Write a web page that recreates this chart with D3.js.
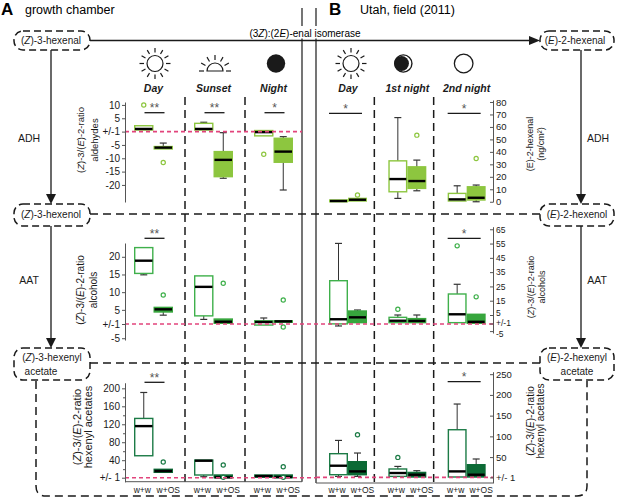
<!DOCTYPE html>
<html>
<head>
<meta charset="utf-8">
<script src="https://cdn.jsdelivr.net/npm/d3@7"></script>
<style>
body{margin:0;background:#fff;}
svg{font-family:"Liberation Sans",Arial,Helvetica,sans-serif;}
</style>
</head>
<body>
<svg id="fig" width="617" height="499"></svg>
<script>
// ---------- data ----------
var timesA = ['Day', 'Sunset', 'Night'];
var timesB = ['Day', '1st night', '2nd night'];
var treatments = ['w+w', 'w+OS'];

// box stats per time x treatment : [whisker low, q1, median, q3, whisker high]
var aldA = [[0.6,0.6,1.0,2.2,2.2], [-6.5,-6.5,-6.0,-5.6,-4.3],
            [0.6,0.6,1.0,3.1,3.5], [-17.5,-16.9,-10.6,-7.5,-0.4],
            [-1.6,-1.6,-0.2,0.4,0.4], [-21.9,-11.5,-7.5,-2.5,-1.9]];
var aldAOut = [[10], [-11.6], [], [], [-8.5], []];
var hexB = [[0,0,0.6,1.4,1.4], [0.6,0.6,1.6,2.7,2.7],
            [2.7,8,18.2,32.8,67.5], [8.8,10.7,16.6,28,33.4],
            [0.6,0.6,1.9,6.7,12.8], [0,1.4,3.2,12,13.4]];
var hexBOut = [[], [5.4], [], [53.4], [], [34.7]];

var alcA = [[14.9,15.3,18.9,22.6,22.6], [3.5,4.4,5.15,5.7,5.7],
            [2.3,3.3,11.5,14.6,14.6], [1.2,1.2,1.65,2.4,2.4],
            [-1.3,-1.3,1.56,1.9,2.7], [1.5,1.5,1.75,1.9,1.9]];
var alcAOut = [[], [9.2], [], [12.5], [], [7.8, -1.85]];
var alcB = [[-2.3,-1.2,3,29,55.1], [1.4,1.4,3.9,7.8,8.5],
            [1.4,1.4,2.3,3.9,5], [1.4,1.4,2.2,3.3,5],
            [1.4,1.4,5.5,19.7,26.5], [1.1,1.1,1.8,5.5,5.5]];
var alcBOut = [[], [], [9], [], [53.4], [17.7]];

var aceA = [[49.9,49.9,115.9,133,190.8], [13,13,15.9,19.7,19.7],
            [3.2,7,38.8,40.3,40.3], [1,1,1.9,7,7],
            [1.9,1.9,4.8,7,7], [1,1,2.5,7,7]];
var aceAOut = [[], [35.9], [], [29.2, 2], [], [25.4, 2]];
var aceB = [[3.4,7.5,29.2,58.2,90.2], [3.4,7.5,15.5,38.9,59.8],
            [3.4,3.4,11.6,21.3,27.5], [2,2,7.5,13,17.2],
            [2,2,15.5,116,178], [2,2,7.5,31.6,45.4]];
var aceBOut = [[], [104], [49.2], [], [], []];

// significance marks per time
var sigAldA = ['**', '**', '*'];
var sigHexB = ['*', '', '*'];
var sigAlcA = ['**', '', ''];
var sigAlcB = ['', '', '*'];
var sigAceA = ['**', '', ''];
var sigAceB = ['', '', '*'];

// axis ticks
var aldTicksA = [10, 5, 0, -5, -10, -15, -20];
var aldLabelsA = ['10', '5', '+/-1', '-5', '-10', '-15', '-20'];
var hexTicksB = [80, 70, 60, 50, 40, 30, 20, 10, 0];
var alcTicksA = [20, 15, 10, 5, 1, -5];
var alcLabelsA = ['20', '15', '10', '5', '+/-1', '-5'];
var alcTicksB = [65, 55, 45, 35, 25, 15, 5, 1, -5];
var alcLabelsB = ['65', '55', '45', '35', '25', '15', '5', '+/-1', '-5'];
var aceTicksA = [200, 160, 120, 80, 40, 1];
var aceLabelsA = ['200', '160', '120', '80', '40', '+/- 1'];
var aceMinorA = [180, 140, 100, 60, 20];
var aceTicksB = [250, 200, 150, 100, 50, 1];
var aceLabelsB = ['250', '200', '150', '100', '50', '+/- 1'];

// ---------- layout ----------
var svg = d3.select('#fig');
var lime = '#8dc63f', green = '#3fb04b', greenFill = '#37a63d', dark = '#1c7b46', darkFill = '#0c6a35';
var pink = '#e2447c', ink = '#1a1a1a';

var xA = d3.scaleBand().domain(timesA).range([125, 305]);
var xB = d3.scaleBand().domain(timesB).range([315, 493]);
var subA = d3.scaleBand().domain(treatments).range([9, 48]);
var subB = d3.scaleBand().domain(treatments).range([14, 52]);

var yAldA = d3.scaleLinear().domain([-26.4, 11.1]).range([202, 102]);
var yHexB = d3.scaleLinear().domain([-0.2, 81.6]).range([202, 100]);
var yAlcA = d3.scaleLinear().domain([-5.5, -1, 1, 23.9]).range([340, 324, 324, 243]);
var yAlcB = d3.scaleLinear().domain([-6, -1, 1, 5, 66.8]).range([333, 323.5, 323.5, 315, 226.7]);
var yAceA = d3.scaleLinear().domain([-7.9, 211.9]).range([481.7, 383]);
var yAceB = d3.scaleLinear().domain([-12.5, 256]).range([483, 371.7]);

function pairCenter(x, sub, t) {
  return x(t) + (sub.range()[0] + sub.range()[1]) / 2;
}

function rich(t, parts) {
  parts.forEach(function (p) {
    var s = t.append('tspan').text(p[0]);
    if (p[1]) s.attr('font-style', 'italic');
  });
  return t;
}

// ---------- pathway scaffolding (dashed boxes + arrows) ----------
var path = svg.append('g').attr('fill', 'none').attr('stroke', ink);
var dash = '7,4';

// column separators
[xA('Sunset'), xA('Night'), xB('1st night'), xB('2nd night')].forEach(function (xx) {
  path.append('line').attr('x1', xx).attr('x2', xx).attr('y1', 97).attr('y2', 483)
    .attr('stroke-width', 1.5).attr('stroke-dasharray', '8,5');
});
// horizontal dashed links
[214, 363].forEach(function (yy) {
  path.append('line').attr('x1', 90).attr('x2', 540).attr('y1', yy).attr('y2', yy)
    .attr('stroke-width', 1.5).attr('stroke-dasharray', '8,5');
});
// lower enclosure
path.append('path').attr('d', 'M36,381 V486 Q36,496 46,496 H577 Q587,496 587,486 V381')
  .attr('stroke-width', 1.5).attr('stroke-dasharray', '8,5');

// compound boxes
var boxes = [[14, 31, 76, 19], [14, 204, 76, 22], [14, 348, 76, 32],
             [540, 31, 74, 19], [540, 204, 74, 22], [540, 348, 74, 32]];
boxes.forEach(function (b) {
  path.append('rect').attr('x', b[0]).attr('y', b[1]).attr('width', b[2]).attr('height', b[3])
    .attr('rx', 9).attr('fill', '#fff').attr('stroke-width', 1.5).attr('stroke-dasharray', dash);
});

// panel dividers
path.append('line').attr('x1', 302).attr('x2', 302).attr('y1', 8).attr('y2', 481.7).attr('stroke-width', 1.2);
path.append('line').attr('x1', 316).attr('x2', 316).attr('y1', 8).attr('y2', 483).attr('stroke-width', 1.2);

// isomerase arrow
svg.append('rect').attr('x', 243).attr('y', 26).attr('width', 124).attr('height', 12.5).attr('fill', '#fff');
path.append('line').attr('x1', 90).attr('x2', 532).attr('y1', 40.5).attr('y2', 40.5).attr('stroke-width', 1.3);
svg.append('path').attr('d', 'M529,36 L540,40.5 L529,45 Z').attr('fill', ink);
rich(svg.append('text').attr('x', 305).attr('y', 37).attr('text-anchor', 'middle').attr('font-size', 10),
  [['(3'], ['Z', 1], ['):(2'], ['E', 1], [')-enal isomerase']]);

// vertical enzyme arrows
[[51, 50, 204], [51, 226, 348], [581, 50, 204], [581, 226, 348]].forEach(function (a) {
  path.append('line').attr('x1', a[0]).attr('x2', a[0]).attr('y1', a[1]).attr('y2', a[2] - 8).attr('stroke-width', 1.3);
  svg.append('path').attr('d', 'M' + (a[0] - 5) + ',' + (a[2] - 10) + ' L' + a[0] + ',' + a[2] + ' L' + (a[0] + 5) + ',' + (a[2] - 10) + ' Z').attr('fill', ink);
});

var lab = svg.append('g').attr('font-size', 10).attr('fill', ink).attr('text-anchor', 'middle');
rich(lab.append('text').attr('x', 51).attr('y', 44), [['('], ['Z', 1], [')-3-hexenal']]);
rich(lab.append('text').attr('x', 51).attr('y', 218), [['('], ['Z', 1], [')-3-hexenol']]);
rich(lab.append('text').attr('x', 52).attr('y', 361), [['('], ['Z', 1], [')-3-hexenyl']]);
lab.append('text').attr('x', 41).attr('y', 375).text('acetate');
rich(lab.append('text').attr('x', 575).attr('y', 44), [['('], ['E', 1], [')-2-hexenal']]);
rich(lab.append('text').attr('x', 577).attr('y', 218), [['('], ['E', 1], [')-2-hexenol']]);
rich(lab.append('text').attr('x', 577).attr('y', 361), [['('], ['E', 1], [')-2-hexenyl']]);
lab.append('text').attr('x', 577).attr('y', 375).text('acetate');
lab.append('text').attr('x', 29).attr('y', 142).attr('font-size', 10.5).text('ADH');
lab.append('text').attr('x', 29).attr('y', 284).attr('font-size', 10.5).text('AAT');
lab.append('text').attr('x', 598).attr('y', 142).attr('font-size', 10.5).text('ADH');
lab.append('text').attr('x', 597).attr('y', 284).attr('font-size', 10.5).text('AAT');

// panel titles
svg.append('text').attr('x', 1).attr('y', 15).attr('font-size', 17).attr('font-weight', 'bold').text('A');
svg.append('text').attr('x', 25).attr('y', 14).attr('font-size', 12.5).text('growth chamber');
svg.append('text').attr('x', 329).attr('y', 15).attr('font-size', 17).attr('font-weight', 'bold').text('B');
svg.append('text').attr('x', 360).attr('y', 14).attr('font-size', 12.5).text('Utah, field (2011)');

// ---------- time icons + labels ----------
var iconY = 63.5;
function sun(cx, cy) {
  var g = svg.append('g').attr('stroke', ink).attr('stroke-width', 1.2);
  g.append('circle').attr('cx', cx).attr('cy', cy).attr('r', 8).attr('fill', '#fff');
  d3.range(12).forEach(function (i) {
    var a = i * Math.PI / 6;
    g.append('line').attr('x1', cx + 11 * Math.cos(a)).attr('y1', cy + 11 * Math.sin(a))
      .attr('x2', cx + 15.5 * Math.cos(a)).attr('y2', cy + 15.5 * Math.sin(a));
  });
}
function sunset(cx, cy) {
  var g = svg.append('g').attr('stroke', ink).attr('stroke-width', 1.2).attr('fill', 'none');
  g.append('path').attr('d', 'M' + (cx - 8) + ',' + cy + ' A8,8 0 0,1 ' + (cx + 8) + ',' + cy + ' Z');
  d3.range(7).forEach(function (i) {
    var a = -i * Math.PI / 6;
    g.append('line').attr('x1', cx + 11 * Math.cos(a)).attr('y1', cy + 11 * Math.sin(a))
      .attr('x2', cx + 16 * Math.cos(a)).attr('y2', cy + 16 * Math.sin(a));
  });
}
function moonFull(cx, cy) {
  svg.append('circle').attr('cx', cx).attr('cy', cy).attr('r', 9.2).attr('fill', ink);
}
function moonCrescent(cx, cy) {
  svg.append('circle').attr('cx', cx).attr('cy', cy).attr('r', 9.3).attr('fill', ink);
  svg.append('circle').attr('cx', cx).attr('cy', cy).attr('r', 7.9).attr('fill', '#fff');
  svg.append('circle').attr('cx', cx - 1.8).attr('cy', cy).attr('r', 7.4).attr('fill', ink);
}
function moonOpen(cx, cy) {
  svg.append('circle').attr('cx', cx).attr('cy', cy).attr('r', 9.3).attr('fill', 'none')
    .attr('stroke', ink).attr('stroke-width', 1.3);
}
sun(pairCenter(xA, subA, 'Day') + 1.5, iconY);
sunset(pairCenter(xA, subA, 'Sunset') + 1.5, 71);
moonFull(pairCenter(xA, subA, 'Night') + 2.5, iconY);
sun(pairCenter(xB, subB, 'Day') + 3, iconY);
moonCrescent(pairCenter(xB, subB, '1st night') - 4, iconY);
moonOpen(pairCenter(xB, subB, '2nd night') - 3, iconY);

function timeLabels(x, sub, times) {
  svg.append('g').selectAll('text').data(times).enter().append('text')
    .attr('x', function (d) { return pairCenter(x, sub, d); })
    .attr('y', 92).attr('text-anchor', 'middle').attr('font-size', 10.5)
    .attr('font-weight', 'bold').attr('font-style', 'italic').attr('fill', ink)
    .text(function (d) { return d; });
}
timeLabels(xA, subA, timesA);
timeLabels(xB, subB, timesB);

// ---------- box plots ----------
function drawBoxes(x, sub, times, y, stats, outs, col, fill) {
  var recs = stats.map(function (s, i) {
    var t = times[Math.floor(i / 2)], k = treatments[i % 2];
    return { x0: x(t) + sub(k), w: sub.bandwidth(), s: s, out: outs[i], filled: i % 2 === 1 };
  });
  var g = svg.append('g');
  var b = g.selectAll('g').data(recs).enter().append('g');
  b.append('line').attr('stroke', '#333').attr('stroke-width', 1)
    .attr('x1', function (d) { return d.x0 + d.w / 2; }).attr('x2', function (d) { return d.x0 + d.w / 2; })
    .attr('y1', function (d) { return y(d.s[0]); }).attr('y2', function (d) { return y(d.s[4]); });
  b.filter(function (d) { return d.s[0] < d.s[1]; }).append('line').attr('stroke', '#333').attr('stroke-width', 1.2)
    .attr('x1', function (d) { return d.x0 + d.w / 2 - 3.5; }).attr('x2', function (d) { return d.x0 + d.w / 2 + 3.5; })
    .attr('y1', function (d) { return y(d.s[0]); }).attr('y2', function (d) { return y(d.s[0]); });
  b.filter(function (d) { return d.s[4] > d.s[3]; }).append('line').attr('stroke', '#333').attr('stroke-width', 1.2)
    .attr('x1', function (d) { return d.x0 + d.w / 2 - 3.5; }).attr('x2', function (d) { return d.x0 + d.w / 2 + 3.5; })
    .attr('y1', function (d) { return y(d.s[4]); }).attr('y2', function (d) { return y(d.s[4]); });
  b.append('rect')
    .attr('x', function (d) { return d.x0 + 0.7; }).attr('width', function (d) { return d.w - 1.4; })
    .attr('y', function (d) { return y(d.s[3]); })
    .attr('height', function (d) { return Math.max(1, y(d.s[1]) - y(d.s[3])); })
    .attr('fill', function (d) { return d.filled ? fill : '#fff'; })
    .attr('stroke', function (d) { return d.filled ? fill : col; }).attr('stroke-width', 1.4);
  b.append('line').attr('stroke', '#000').attr('stroke-width', 2.4)
    .attr('x1', function (d) { return d.x0 + 1; }).attr('x2', function (d) { return d.x0 + d.w - 1; })
    .attr('y1', function (d) { return y(d.s[2]); }).attr('y2', function (d) { return y(d.s[2]); });
  b.selectAll('circle').data(function (d) { return d.out.map(function (v) { return { v: v, cx: d.x0 + d.w / 2 }; }); })
    .enter().append('circle').attr('r', 2.1)
    .attr('cx', function (d) { return d.cx; }).attr('cy', function (d) { return y(d.v); })
    .attr('fill', '#fff').attr('stroke', col).attr('stroke-width', 1.2);
}

function drawSig(x, sub, times, sig, lineY, left, right) {
  var g = svg.append('g');
  times.forEach(function (t, i) {
    if (!sig[i]) return;
    var c = pairCenter(x, sub, t);
    g.append('line').attr('x1', c + left).attr('x2', c + right).attr('y1', lineY).attr('y2', lineY)
      .attr('stroke', ink).attr('stroke-width', 1.3);
    g.append('text').attr('x', c + (left + right) / 2).attr('y', lineY - 0.5).attr('text-anchor', 'middle')
      .attr('font-size', 12).attr('fill', '#555').text(sig[i]);
  });
}

function pinkLine(x1, x2, yy) {
  svg.append('line').attr('x1', x1).attr('x2', x2).attr('y1', yy).attr('y2', yy)
    .attr('stroke', pink).attr('stroke-width', 1.6).attr('stroke-dasharray', '4,3');
}

function leftAxis(y, ticks, labels, minor) {
  var g = svg.append('g').attr('transform', 'translate(125,0)')
    .call(d3.axisLeft(y).tickValues(ticks).tickFormat(function (d, i) { return labels[i]; })
      .tickSize(3).tickSizeOuter(0).tickPadding(2));
  g.selectAll('text').attr('font-size', 10).attr('font-family', null).attr('fill', ink);
  g.selectAll('line, path').attr('stroke', '#555');
  if (minor) {
    svg.append('g').attr('transform', 'translate(125,0)')
      .call(d3.axisLeft(y).tickValues(minor).tickFormat('').tickSize(2).tickSizeOuter(0))
      .selectAll('line, path').attr('stroke', '#555');
  }
}
function rightAxis(y, ticks, labels, size) {
  var g = svg.append('g').attr('transform', 'translate(493,0)')
    .call(d3.axisRight(y).tickValues(ticks).tickFormat(function (d, i) { return labels ? labels[i] : d; })
      .tickSizeInner(-3).tickSizeOuter(0).tickPadding(3));
  g.selectAll('text').attr('font-size', size || 9.5).attr('font-family', null).attr('fill', ink);
  g.selectAll('line, path').attr('stroke', '#555');
  return g;
}

function yTitle(cx, cy, l1, l2, size) {
  var g = svg.append('g').attr('font-size', size).attr('fill', ink).attr('text-anchor', 'middle');
  var t1 = g.append('text').attr('transform', 'translate(' + cx[0] + ',' + cy + ') rotate(-90)')
    .attr('dominant-baseline', 'central');
  rich(t1, l1);
  g.append('text').attr('transform', 'translate(' + cx[1] + ',' + cy + ') rotate(-90)')
    .attr('dominant-baseline', 'central').text(l2);
}
var ratioParts = [['('], ['Z', 1], [')-3/('], ['E', 1], [')-2-ratio']];

// row 1 : aldehydes
drawBoxes(xA, subA, timesA, yAldA, aldA, aldAOut, lime, lime);
drawBoxes(xB, subB, timesB, yHexB, hexB, hexBOut, lime, lime);
pinkLine(125, 302, yAldA(0));
leftAxis(yAldA, aldTicksA, aldLabelsA);
rightAxis(yHexB, hexTicksB);
drawSig(xA, subA, timesA, sigAldA, 112.7, -9, 11);
drawSig(xB, subB, timesB, sigHexB, 113.3, -19, 14);
yTitle([80, 94], 140, ratioParts, 'aldehydes', 9.5);
yTitle([530, 541], 144, [['(E)-2-hexenal']], '(ng/cm\u00b2)', 9);

// row 2 : alcohols
drawBoxes(xA, subA, timesA, yAlcA, alcA, alcAOut, green, greenFill);
drawBoxes(xB, subB, timesB, yAlcB, alcB, alcBOut, green, greenFill);
pinkLine(125, 493, yAlcA(1));
leftAxis(yAlcA, alcTicksA, alcLabelsA);
// the three lowest labels sit very close together; spread their text a little
rightAxis(yAlcB, alcTicksB, alcLabelsB, 8.5).selectAll('.tick text')
  .attr('dy', function (d) { return d === 5 ? '0.1em' : d === 1 ? '0.25em' : d === -5 ? '0.6em' : '0.32em'; });
drawSig(xA, subA, timesA, sigAlcA, 238.3, -9, 11);
drawSig(xB, subB, timesB, sigAlcB, 238.3, -19, 14);
yTitle([80, 93], 290, ratioParts, 'alcohols', 10);
yTitle([531, 542], 287, ratioParts, 'alcohols', 9);

// row 3 : hexenyl acetates
drawBoxes(xA, subA, timesA, yAceA, aceA, aceAOut, dark, darkFill);
drawBoxes(xB, subB, timesB, yAceB, aceB, aceBOut, dark, darkFill);
pinkLine(125, 316, yAceA(1));
pinkLine(316, 493, yAceB(1));
leftAxis(yAceA, aceTicksA, aceLabelsA, aceMinorA);
rightAxis(yAceB, aceTicksB, aceLabelsB);
drawSig(xA, subA, timesA, sigAceA, 382.3, -9, 11);
drawSig(xB, subB, timesB, sigAceB, 381.7, -19, 14);
yTitle([77, 88], 427, ratioParts, 'hexenyl acetates', 11);
yTitle([530, 540.5], 421, ratioParts, 'hexenyl acetates', 10);

// x axes + treatment labels under bottom row
svg.append('line').attr('x1', 125).attr('x2', 302).attr('y1', 481.7).attr('y2', 481.7).attr('stroke', '#555');
svg.append('line').attr('x1', 316).attr('x2', 493).attr('y1', 483).attr('y2', 483).attr('stroke', '#555');
function trtLabels(x, sub, times) {
  var recs = [];
  times.forEach(function (t) {
    treatments.forEach(function (k, j) {
      recs.push({ x: x(t) + sub(k) + sub.bandwidth() / 2 + (j ? 5 : -1.5), k: k });
    });
  });
  svg.append('g').selectAll('text').data(recs).enter().append('text')
    .attr('x', function (d) { return d.x; }).attr('y', 493).attr('text-anchor', 'middle')
    .attr('font-size', 8.5).attr('fill', ink).text(function (d) { return d.k; });
}
trtLabels(xA, subA, timesA);
trtLabels(xB, subB, timesB);
</script>
</body>
</html>
